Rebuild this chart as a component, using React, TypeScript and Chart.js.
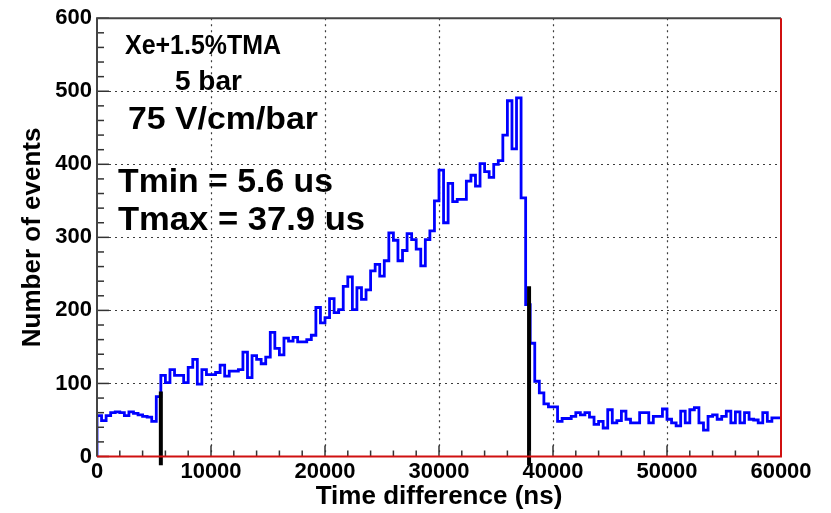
import { useEffect, useRef } from "react";
import { Chart, registerables } from "chart.js";

Chart.register(...registerables);

// Histogram binning (ns)
const binWidthNs = 400;
const rangeNs = 60000;

// Counts per 400 ns bin, 0 .. 60000 ns
const counts = [
  0, 56, 49, 56, 60, 61, 60, 56, 61, 59, 57, 55, 54, 48,
  82, 111, 101, 119, 111, 111, 101, 122, 133, 99, 119, 112, 112, 115,
  125, 110, 117, 117, 119, 143, 108, 138, 133, 127, 136, 170, 148, 139,
  162, 158, 163, 157, 157, 160, 166, 204, 183, 190, 216, 197, 201, 233,
  246, 201, 231, 215, 228, 254, 263, 247, 268, 306, 296, 268, 282, 305,
  297, 284, 261, 297, 309, 350, 392, 320, 374, 349, 352, 352, 377, 385,
  370, 401, 390, 382, 400, 405, 440, 487, 421, 491, 354, 208, 155, 103,
  87, 72, 68, 68, 48, 52, 52, 55, 60, 57, 60, 54, 44, 48,
  39, 64, 46, 49, 62, 51, 46, 46, 60, 60, 46, 55, 55, 65,
  51, 46, 42, 62, 46, 64, 67, 46, 36, 55, 57, 51, 55, 62,
  46, 61, 46, 60, 51, 50, 46, 60, 48, 53,
];

// Drift-time window markers (ns) and the heights of their bars
const tMinNs = 5600;
const tMaxNs = 37900;
const tMinBarTop = 89;
const tMaxBarTop = 233;
const markerBottom = -12;

// Axis ticks
const xMajor = [0, 10000, 20000, 30000, 40000, 50000, 60000];
const xMinorStep = 2000;
const yMajor = [0, 100, 200, 300, 400, 500, 600];
const yMinorStep = 20;

// Text block
const conditionLines = ["Xe+1.5%TMA", "5 bar", "75 V/cm/bar"];
const windowLines = ["Tmin = 5.6 us", "Tmax = 37.9 us"];
const xTitle = "Time difference (ns)";
const yTitle = "Number of events";

const FONT = "'Liberation Sans', Arial, Helvetica, sans-serif";

const histPoints = counts.map((c, i) => ({ x: i * binWidthNs, y: c }));
histPoints.push({ x: rangeNs, y: counts[counts.length - 1] });

// Draws text scaled horizontally so that it spans the given width
function fitText(ctx: CanvasRenderingContext2D, text: string, x: number, y: number, width: number) {
  const w = ctx.measureText(text).width;
  ctx.save();
  ctx.translate(x, y);
  ctx.scale(width / w, 1);
  ctx.fillText(text, 0, 0);
  ctx.restore();
}

const rootFrame = {
  id: "rootFrame",
  beforeDatasetsDraw(chart: any) {
    const { ctx, chartArea: a, scales } = chart;
    const x = scales.x;
    const y = scales.y;
    ctx.save();
    ctx.strokeStyle = "#3c3c3c";
    ctx.lineWidth = 1.2;
    ctx.setLineDash([2, 4]);
    for (const v of xMajor.slice(1, -1)) {
      const px = Math.round(x.getPixelForValue(v)) + 0.5;
      ctx.beginPath();
      ctx.moveTo(px, a.top);
      ctx.lineTo(px, a.bottom);
      ctx.stroke();
    }
    for (const v of yMajor.slice(1, -1)) {
      const py = Math.round(y.getPixelForValue(v)) + 0.5;
      ctx.beginPath();
      ctx.moveTo(a.left, py);
      ctx.lineTo(a.right, py);
      ctx.stroke();
    }
    ctx.restore();
  },
  afterDatasetsDraw(chart: any) {
    const { ctx, chartArea: a, scales } = chart;
    const x = scales.x;
    const y = scales.y;
    ctx.save();
    ctx.setLineDash([]);

    // inward tick marks
    ctx.strokeStyle = "#333";
    ctx.lineWidth = 1.5;
    for (let v = 0; v <= 600; v += yMinorStep) {
      const py = y.getPixelForValue(v);
      const len = v % 100 === 0 ? 12 : 7;
      ctx.beginPath();
      ctx.moveTo(a.left, py);
      ctx.lineTo(a.left + len, py);
      ctx.stroke();
    }
    for (let v = 0; v <= rangeNs; v += xMinorStep) {
      const px = x.getPixelForValue(v);
      const len = v % 10000 === 0 ? 11 : 6;
      ctx.beginPath();
      ctx.moveTo(px, a.bottom);
      ctx.lineTo(px, a.bottom - len);
      ctx.stroke();
    }

    // frame
    ctx.lineWidth = 2;
    ctx.strokeStyle = "#444";
    ctx.beginPath();
    ctx.moveTo(a.left, a.bottom);
    ctx.lineTo(a.left, a.top);
    ctx.lineTo(a.right, a.top);
    ctx.stroke();
    ctx.strokeStyle = "#d01010";
    ctx.beginPath();
    ctx.moveTo(a.right, a.top);
    ctx.lineTo(a.right, a.bottom);
    ctx.lineTo(a.left, a.bottom);
    ctx.stroke();

    // text block
    ctx.fillStyle = "#000";
    ctx.textBaseline = "alphabetic";
    ctx.textAlign = "left";
    ctx.font = `bold 28px ${FONT}`;
    fitText(ctx, conditionLines[0], 125, 54, 156);
    ctx.fillText(conditionLines[1], 175, 90);
    ctx.font = `bold 32px ${FONT}`;
    fitText(ctx, conditionLines[2], 128, 129, 190);
    ctx.font = `bold 33px ${FONT}`;
    fitText(ctx, windowLines[0], 118, 192, 215);
    fitText(ctx, windowLines[1], 118, 230, 247);

    // axis titles
    ctx.font = `bold 26px ${FONT}`;
    ctx.textAlign = "center";
    ctx.fillText(xTitle, (a.left + a.right) / 2, 504);
    ctx.translate(40, (a.top + a.bottom) / 2);
    ctx.rotate(-Math.PI / 2);
    ctx.fillText(yTitle, 0, 0);
    ctx.restore();
  },
};

export default function App() {
  const canvasRef = useRef<HTMLCanvasElement | null>(null);

  useEffect(() => {
    const canvas = canvasRef.current;
    if (!canvas) return;
    const chart = new Chart(canvas, {
      type: "line",
      data: {
        datasets: [
          {
            label: "Tmin",
            data: [
              { x: tMinNs, y: markerBottom },
              { x: tMinNs, y: tMinBarTop },
            ],
            borderColor: "#000",
            borderWidth: 4,
            pointRadius: 0,
            clip: false,
          } as any,
          {
            label: "Tmax",
            data: [
              { x: tMaxNs, y: markerBottom },
              { x: tMaxNs, y: tMaxBarTop },
            ],
            borderColor: "#000",
            borderWidth: 4,
            pointRadius: 0,
            clip: false,
          } as any,
          {
            label: "events",
            data: histPoints,
            stepped: "after",
            borderColor: "#0000ff",
            borderWidth: 2.8,
            pointRadius: 0,
            fill: false,
          } as any,
        ],
      },
      options: {
        animation: false,
        responsive: false,
        maintainAspectRatio: false,
        events: [],
        layout: { padding: { top: 17, right: 50, left: 0, bottom: 0 } },
        plugins: {
          legend: { display: false },
          tooltip: { enabled: false },
        },
        scales: {
          x: {
            type: "linear",
            min: 0,
            max: rangeNs,
            afterFit: (s: any) => {
              s.height = 56.5;
            },
            afterBuildTicks: (s: any) => {
              s.ticks = xMajor.map((v) => ({ value: v }));
            },
            grid: { display: false, drawTicks: false },
            border: { display: false },
            ticks: {
              padding: 2,
              maxRotation: 0,
              autoSkip: false,
              color: "#000",
              font: { family: FONT, weight: "bold", size: 22 },
              callback: (v: any) => String(v),
            },
          },
          y: {
            type: "linear",
            min: 0,
            max: 600,
            afterFit: (s: any) => {
              s.width = 97;
            },
            afterBuildTicks: (s: any) => {
              s.ticks = yMajor.map((v) => ({ value: v }));
            },
            grid: { display: false, drawTicks: false },
            border: { display: false },
            ticks: {
              padding: 5,
              autoSkip: false,
              color: "#000",
              font: { family: FONT, weight: "bold", size: 22 },
              callback: (v: any) => String(v),
            },
          },
        },
      },
      plugins: [rootFrame],
    });
    return () => chart.destroy();
  }, []);

  return (
    <div
      style={{
        position: "fixed",
        left: 0,
        top: 0,
        width: 831,
        height: 513,
        background: "#fff",
      }}
    >
      <canvas ref={canvasRef} width={831} height={513} />
    </div>
  );
}
